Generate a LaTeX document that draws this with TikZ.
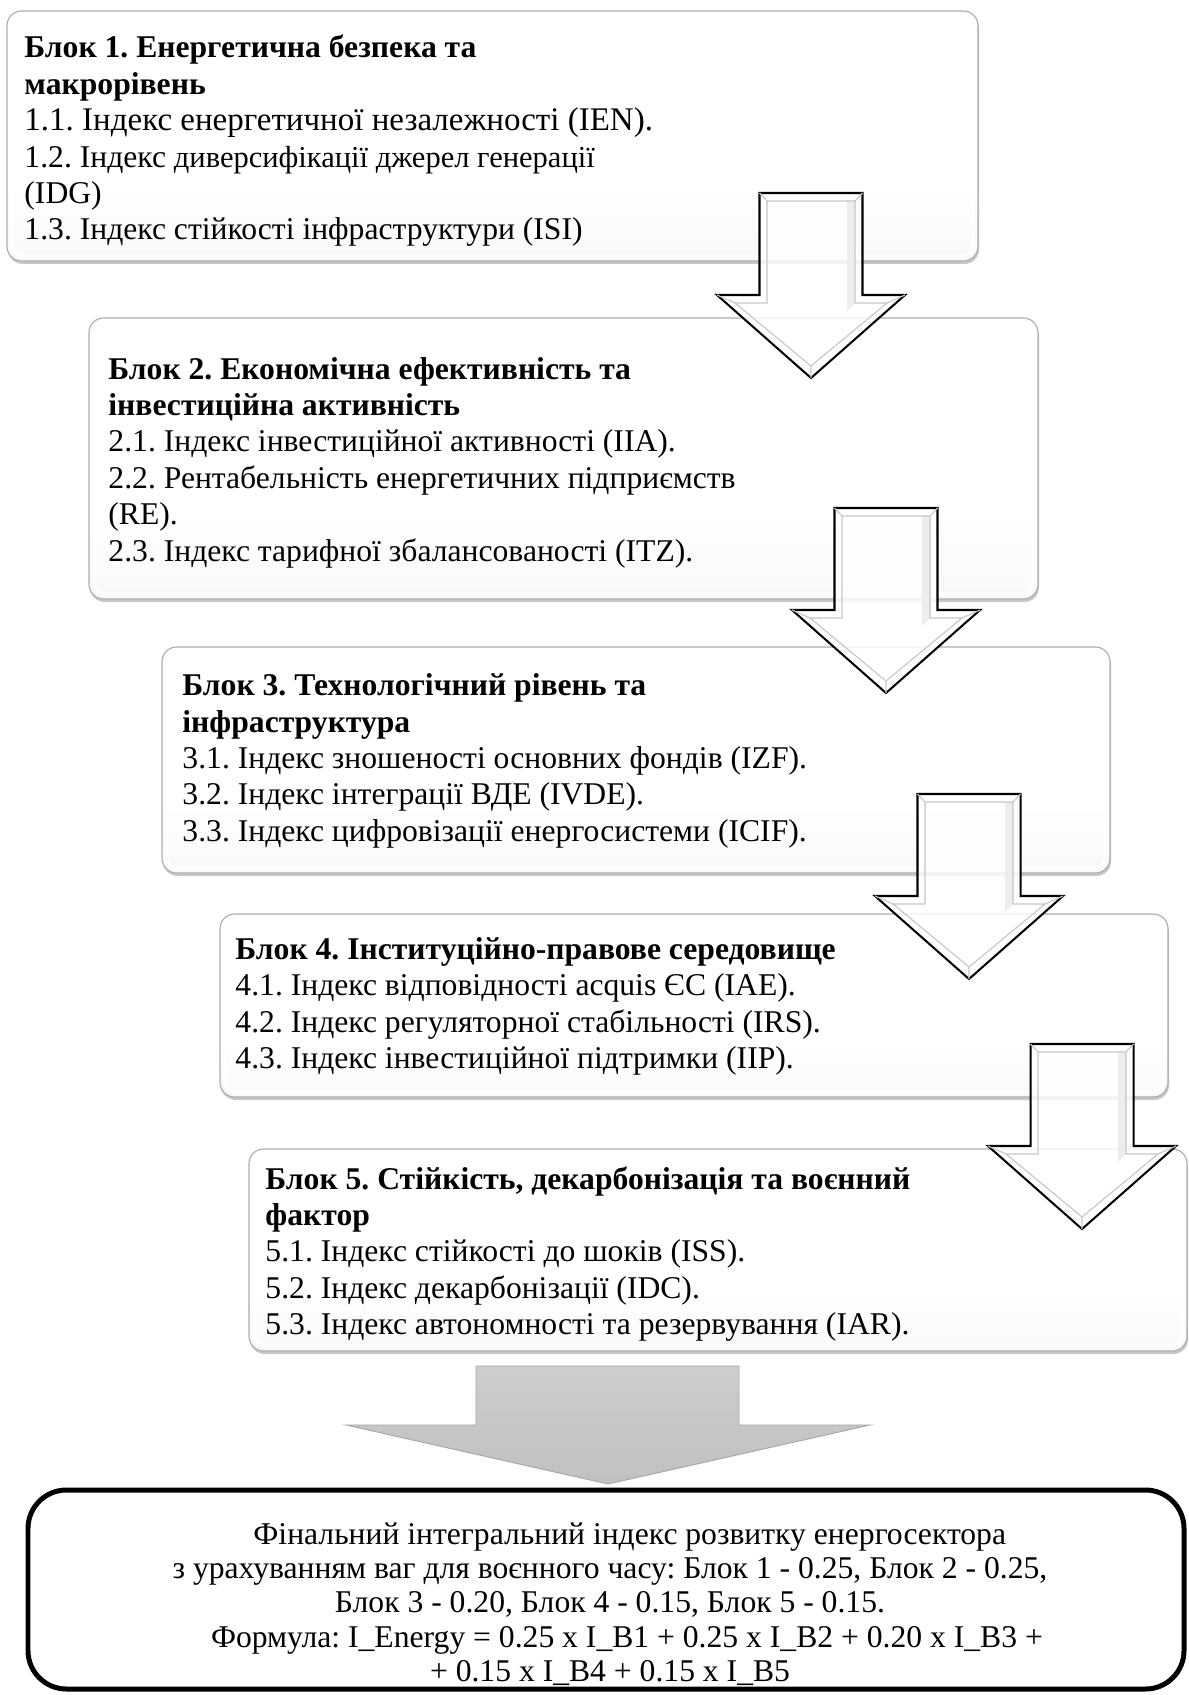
\documentclass[tikz,border=0pt]{standalone}
\usepackage{fontspec}
\setmainfont{Liberation Serif}
\usetikzlibrary{fit}
\pgfdeclareverticalshading{blockshade}{100bp}{color(0bp)=(black!17); color(8bp)=(black!11); color(22bp)=(black!3); color(40bp)=(white); color(100bp)=(white)}
\pgfdeclareverticalshading{grayshade}{100bp}{color(0bp)=(black!27); color(100bp)=(black!17)}
\tikzset{
  blockbox/.style={draw=black!32, line width=0.5pt, rounded corners=6.5pt, shading=blockshade, inner sep=0pt},
  blockinner/.style={draw=white, line width=1.2pt, rounded corners=5pt},
  blockshadow/.style={fill=black!22, rounded corners=6.5pt},
  blocktext/.style={anchor=west, align=left, inner sep=0pt, font=\fontsize{14pt}{16.1pt}\selectfont},
  bigarrow/.style={draw=black, line width=0.9pt, fill=white, fill opacity=0.82, line join=miter},
  arrowbevel/.style={draw=black!22, line width=0.5pt},
  arrowband/.style={fill=black!7},
  finalarrow/.style={draw=black!35, line width=0.4pt, shading=grayshade},
  finalbox/.style={draw=black, line width=2.2pt, rounded corners=17pt, fill=white, inner sep=0pt},
  finaltext/.style={align=center, inner sep=0pt, font=\fontsize{14pt}{15.2pt}\selectfont}
}
\newcommand{\drawblock}[5]{%
  \fill[blockshadow] (#2+1,#3+3) rectangle (#4+1,#5+3);
  \node[blockbox, fit={(#2,#3) (#4,#5)}] (#1) {};
  \draw[blockinner] (#2+5,#3+5) rectangle (#4-5,#5-5);
}
\newcommand{\drawdownarrow}[2]{%
  \path[bigarrow] (#1-51.5,#2) -- (#1+51.5,#2) -- (#1+51.5,#2+102) -- (#1+94,#2+102) -- (#1,#2+185) -- (#1-94,#2+102) -- (#1-51.5,#2+102) -- cycle;
  \fill[arrowband] (#1+36,#2+8) -- (#1+44,#2+8) -- (#1+44,#2+110) -- (#1+36,#2+118) -- cycle;
  \draw[arrowbevel] (#1-44,#2+8) -- (#1+44,#2+8) -- (#1+44,#2+110) -- (#1+76,#2+110) -- (#1,#2+173) -- (#1-76,#2+110) -- (#1-44,#2+110) -- cycle;
  \draw[arrowbevel] (#1-51.5,#2) -- (#1-44,#2+8) (#1+51.5,#2) -- (#1+44,#2+8) (#1,#2+185) -- (#1,#2+173) (#1+94,#2+102) -- (#1+76,#2+110) (#1-94,#2+102) -- (#1-76,#2+110);
}
\begin{document}
\frenchspacing
\begin{tikzpicture}[x=0.4425pt, y=-0.4425pt]
\fill[white] (0,0) rectangle (1189,1695);
\useasboundingbox (0,0) rectangle (1189,1695);

% blocks
\drawblock{b1}{7}{11}{978}{261}
\drawblock{b2}{89}{318}{1038}{599}
\drawblock{b3}{162}{647}{1110}{873}
\drawblock{b4}{220}{914}{1168}{1097}
\drawblock{b5}{249}{1149}{1187}{1351}

% block texts
\node[blocktext] (t1) at (24,141) {\textbf{Блок 1. Енергетична безпека та}\\\textbf{макрорівень}\\{\fontsize{14.6pt}{16.1pt}\selectfont 1.1. Індекс енергетичної незалежності (IEN).}\\1.2. Індекс {\fontsize{13.5pt}{16.1pt}\selectfont диверсифікації джерел генерації}\\(IDG)\\1.3. Індекс стійкості інфраструктури (ISI)};
\node[blocktext] (t2) at (108,462.5) {\textbf{Блок 2. Економічна ефективність та}\\\textbf{інвестиційна активність}\\2.1. Індекс інвестиційної активності (IIA).\\2.2. Рентабельність енергетичних підприємств\\(RE).\\2.3. Індекс тарифної збалансованості (ITZ).};
\node[blocktext] (t3) at (182,761) {\textbf{Блок 3. Технологічний рівень та}\\\textbf{інфраструктура}\\3.1. Індекс зношеності основних фондів (IZF).\\3.2. Індекс інтеграції ВДЕ (IVDE).\\3.3. Індекс цифровізації енергосистеми (ICIF).};
\node[blocktext] (t4) at (235,1006.5) {\textbf{Блок 4. Інституційно-правове середовище}\\4.1. Індекс відповідності acquis ЄС (IAE).\\4.2. Індекс регуляторної стабільності (IRS).\\4.3. Індекс інвестиційної підтримки (IIP).};
\node[blocktext] (t5) at (265,1254) {\textbf{Блок 5. Стійкість, декарбонізація та воєнний}\\\textbf{фактор}\\5.1. Індекс стійкості до шоків (ISS).\\5.2. Індекс декарбонізації (IDC).\\5.3. Індекс автономності та резервування (IAR).};

% block arrows
\drawdownarrow{811}{193}
\drawdownarrow{886}{508}
\drawdownarrow{969}{794}
\drawdownarrow{1082}{1044}

% final arrow
\path[finalarrow] (476,1366) -- (739,1366) -- (739,1425) -- (870,1425) -- (608,1484) -- (346,1425) -- (476,1425) -- cycle;

% final box
\node[finalbox, fit={(28,1490) (1184,1689)}] (fin) {};
\node[finaltext] (ft) at (610,1604) {\hspace*{17.5pt}Фінальний інтегральний індекс розвитку енергосектора\\з урахуванням ваг для воєнного часу: Блок 1 - 0.25, Блок 2 - 0.25,\\Блок 3 - 0.20, Блок 4 - 0.15, Блок 5 - 0.15.\\\hspace*{15pt}Формула: I\_Energy = 0.25 x I\_B1 + 0.25 x I\_B2 + 0.20 x I\_B3 +\\+ 0.15 x I\_B4 + 0.15 x I\_B5};
\end{tikzpicture}
\end{document}
